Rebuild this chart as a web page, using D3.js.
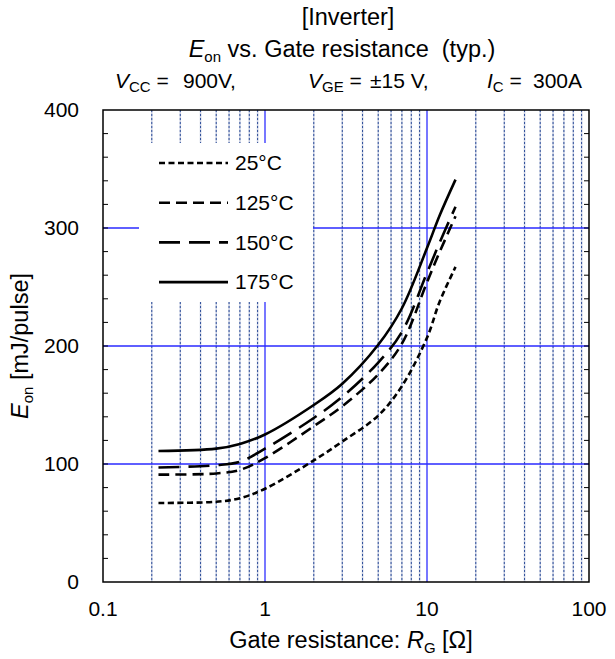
<!DOCTYPE html>
<html>
<head>
<meta charset="utf-8">
<script src="https://cdn.jsdelivr.net/npm/d3@7"></script>
<style>
  body { margin: 0; background: #fff; }
  text { font-family: "Liberation Sans", Arial, sans-serif; fill: #000; white-space: pre; }
</style>
</head>
<body>
<div id="chart"></div>
<script>
// gate resistance [ohm] and Eon [mJ/pulse]
const rg = [0.22, 0.5, 0.7, 1, 2, 3, 5, 7, 10, 12, 15];
const eon25 = [67, 68, 71, 79, 103, 119, 141, 166, 207, 238, 267];
const eon125 = [91, 92, 95, 105, 132, 149, 176, 202, 254, 280, 310];
const eon150 = [97, 99, 102, 113, 139, 157, 186, 212, 262, 288, 318];
const eon175 = [111, 113, 117, 125, 150, 168, 201, 232, 283, 311, 341];
const seriesNames = ['25°C', '125°C', '150°C', '175°C'];
const xTicks = [0.1, 1, 10, 100];
const yTicks = [0, 100, 200, 300, 400];

const width = 615,
    height = 659,
    margin = { top: 110, right: 26, bottom: 77, left: 103 },
    fontSize = 21,
    titleSize = 23.5;

const series = [
    { name: seriesNames[0], values: eon25, dash: '6,3.5' },
    { name: seriesNames[1], values: eon125, dash: '11,6' },
    { name: seriesNames[2], values: eon150, dash: '21,9' },
    { name: seriesNames[3], values: eon175, dash: null }
];

const svg = d3.select('#chart').append('svg')
    .attr('width', width)
    .attr('height', height);

const x = d3.scaleLog()
    .domain([0.1, 100])
    .range([margin.left, width - margin.right]);
const y = d3.scaleLinear()
    .domain([0, 400])
    .range([height - margin.bottom, margin.top]);

const plotTop = y(400), plotBottom = y(0);

// minor vertical grid (2..9 of each decade)
const minorX = [];
[0.1, 1, 10].forEach(d => { for (let k = 2; k <= 9; k++) minorX.push(d * k); });

const grid = svg.append('g');
grid.selectAll('.minor-bg').data(minorX).enter().append('line')
    .attr('x1', d => x(d)).attr('x2', d => x(d))
    .attr('y1', plotTop).attr('y2', plotBottom)
    .attr('stroke', '#c4cbe0').attr('stroke-width', 1.5);
grid.selectAll('.minor').data(minorX).enter().append('line')
    .attr('x1', d => x(d)).attr('x2', d => x(d))
    .attr('y1', plotTop).attr('y2', plotBottom)
    .attr('stroke', '#2f4f9a').attr('stroke-width', 1)
    .attr('stroke-dasharray', '2,2');

// major vertical grid
grid.selectAll('.major-x').data([1, 10]).enter().append('line')
    .attr('x1', d => x(d)).attr('x2', d => x(d))
    .attr('y1', plotTop).attr('y2', plotBottom)
    .attr('stroke', '#7777ff').attr('stroke-width', 2);

// horizontal grid
grid.selectAll('.major-y').data([100, 200, 300]).enter().append('line')
    .attr('x1', x(0.1)).attr('x2', x(100))
    .attr('y1', d => y(d)).attr('y2', d => y(d))
    .attr('stroke', '#2a2aff').attr('stroke-width', 1.3);

// legend background hides the grid
const legend = svg.append('g');
legend.append('rect')
    .attr('x', 139).attr('y', 143)
    .attr('width', 174).attr('height', 159)
    .attr('fill', '#fff');

// curves
const line = d3.line()
    .x((d, i) => x(rg[i]))
    .y(d => y(d))
    .curve(d3.curveCatmullRom.alpha(0.5));

svg.append('g').selectAll('path').data(series).enter().append('path')
    .attr('d', d => line(d.values))
    .attr('fill', 'none')
    .attr('stroke', '#000')
    .attr('stroke-width', 2.6)
    .attr('stroke-dasharray', d => d.dash);

// legend entries
const rows = legend.selectAll('.row').data(series).enter().append('g')
    .attr('transform', (d, i) => `translate(0,${163 + i * 39.7})`);
rows.append('line')
    .attr('x1', 159).attr('x2', 228)
    .attr('stroke', '#000').attr('stroke-width', 2.6)
    .attr('stroke-dasharray', d => d.dash);
rows.append('text')
    .attr('x', 235).attr('dy', '0.35em')
    .style('font-size', fontSize + 'px')
    .text(d => d.name);

// frame
svg.append('rect')
    .attr('x', x(0.1)).attr('y', plotTop)
    .attr('width', x(100) - x(0.1)).attr('height', plotBottom - plotTop)
    .attr('fill', 'none').attr('stroke', '#000').attr('stroke-width', 1.5);

// minor y ticks every 20, inward on both sides
const yMinor = d3.range(20, 400, 20);
svg.append('g').selectAll('line').data(yMinor).enter().append('line')
    .attr('x1', x(0.1)).attr('x2', x(0.1) + 5)
    .attr('y1', d => y(d)).attr('y2', d => y(d))
    .attr('stroke', '#000').attr('stroke-width', 1);
svg.append('g').selectAll('line').data(yMinor).enter().append('line')
    .attr('x1', x(100)).attr('x2', x(100) - 5)
    .attr('y1', d => y(d)).attr('y2', d => y(d))
    .attr('stroke', '#000').attr('stroke-width', 1);

// tick labels
svg.append('g').selectAll('text').data(yTicks).enter().append('text')
    .attr('x', 79).attr('y', d => y(d)).attr('dy', '0.35em')
    .attr('text-anchor', 'end')
    .style('font-size', fontSize + 'px')
    .text(d => d);
svg.append('g').selectAll('text').data(xTicks).enter().append('text')
    .attr('x', d => x(d)).attr('y', 616)
    .attr('text-anchor', 'middle')
    .style('font-size', fontSize + 'px')
    .text(d => d);

// axis titles
const xt = svg.append('text')
    .attr('x', 351).attr('y', 648)
    .attr('text-anchor', 'middle')
    .style('font-size', titleSize + 'px');
xt.append('tspan').text('Gate resistance: ');
xt.append('tspan').style('font-style', 'italic').text('R');
xt.append('tspan').attr('dy', 5).style('font-size', '15px').text('G');
xt.append('tspan').attr('dy', -5).text(' [Ω]');

const yt = svg.append('text')
    .attr('transform', `translate(28,${(plotTop + plotBottom) / 2}) rotate(-90)`)
    .attr('text-anchor', 'middle')
    .style('font-size', titleSize + 'px');
yt.append('tspan').style('font-style', 'italic').text('E');
yt.append('tspan').attr('dy', 5).style('font-size', '15px').text('on');
yt.append('tspan').attr('dy', -5).text(' [mJ/pulse]');

// titles
svg.append('text')
    .attr('x', 348).attr('y', 25)
    .attr('text-anchor', 'middle')
    .style('font-size', titleSize + 'px')
    .text('[Inverter]');

const t2 = svg.append('text')
    .attr('x', 342).attr('y', 57)
    .attr('text-anchor', 'middle')
    .style('font-size', titleSize + 'px');
t2.append('tspan').style('font-style', 'italic').text('E');
t2.append('tspan').attr('dy', 5).style('font-size', '15px').text('on');
t2.append('tspan').attr('dy', -5).text(' vs. Gate resistance  (typ.)');

// test conditions: symbol, subscript, "=" and value placed separately
const conds = [
    { x: 115, vx: 183, sym: 'V', sub: 'CC', val: '900V,' },
    { x: 308, vx: 370, sym: 'V', sub: 'GE', val: '±15 V,' },
    { x: 487, vx: 533, sym: 'I', sub: 'C', val: '300A' }
];
conds.forEach(c => {
    const t = svg.append('text')
        .attr('x', c.x).attr('y', 88)
        .style('font-size', fontSize + 'px');
    t.append('tspan').style('font-style', 'italic').text(c.sym);
    t.append('tspan').attr('dy', 4).style('font-size', '15px').text(c.sub);
    t.append('tspan').attr('dy', -4).text(' =');
    svg.append('text')
        .attr('x', c.vx).attr('y', 88)
        .style('font-size', fontSize + 'px')
        .text(c.val);
});
</script>
</body>
</html>
